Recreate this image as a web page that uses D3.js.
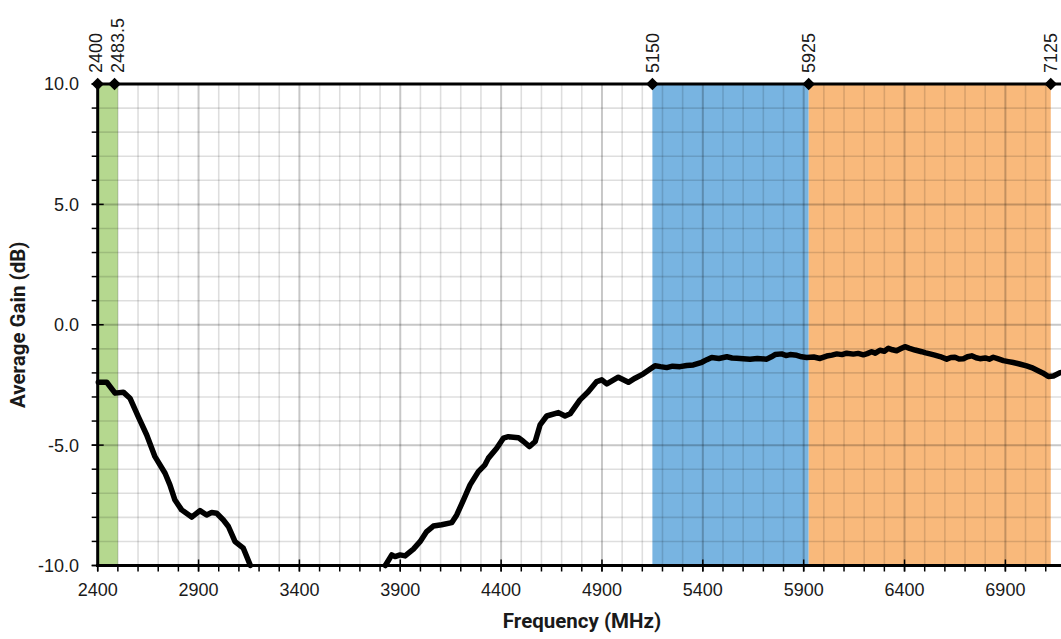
<!DOCTYPE html>
<html>
<head>
<meta charset="utf-8">
<script src="https://cdn.jsdelivr.net/npm/d3@7"></script>
<style>
  html, body { margin: 0; padding: 0; background: #fff; overflow: hidden; }
  svg { display: block; }
  text { font-family: "Liberation Sans", Arial, sans-serif; fill: #1a1a1a; }
</style>
</head>
<body>
<svg id="chart" width="1061" height="639"></svg>
<script>
// Measured average gain across frequency (MHz, dB); null marks the stretch below the axis floor
const freqMHz = [2403, 2445, 2486, 2527, 2560, 2601, 2643, 2684, 2734, 2758, 2783, 2816, 2866, 2907, 2940, 2965, 2990, 3023, 3048, 3081, 3122, 3157,
  3490,
  3826, 3858, 3874, 3899, 3924, 3965, 3998, 4031, 4064, 4105, 4155, 4180, 4213, 4246, 4287, 4320, 4337, 4378, 4411, 4436, 4486, 4511, 4541, 4569, 4593, 4626, 4684, 4717, 4742, 4791, 4832, 4874, 4899, 4924, 4981, 5031, 5064, 5105, 5163,
  5190, 5221, 5250, 5287, 5320, 5353, 5395, 5420, 5444, 5480, 5519, 5545, 5568, 5600, 5634, 5670, 5717, 5740, 5758, 5791, 5812, 5833, 5866, 5890, 5915, 5950, 5981, 6014, 6040, 6064, 6090, 6113, 6146, 6170, 6196, 6215, 6237, 6255, 6278, 6300, 6320, 6340, 6361, 6380, 6402, 6425, 6452, 6485, 6505, 6526, 6550, 6576, 6609, 6630, 6650, 6670, 6692, 6712, 6733, 6755, 6774, 6800, 6820, 6840, 6865, 6890, 6915, 6939, 6970, 7005, 7030, 7055, 7085, 7113, 7138, 7171, 7200];
const gainDb = [-2.39, -2.39, -2.84, -2.80, -3.05, -3.82, -4.58, -5.48, -6.17, -6.65, -7.28, -7.69, -7.99, -7.72, -7.90, -7.80, -7.83, -8.11, -8.38, -9.01, -9.28, -10.0,
  null,
  -10.0, -9.56, -9.63, -9.56, -9.60, -9.32, -9.01, -8.59, -8.36, -8.31, -8.22, -7.90, -7.28, -6.65, -6.10, -5.82, -5.54, -5.13, -4.71, -4.65, -4.69, -4.85, -5.06, -4.85, -4.16, -3.79, -3.65, -3.79, -3.70, -3.12, -2.78, -2.36, -2.29, -2.46, -2.18, -2.39, -2.22, -2.04, -1.70,
  -1.74, -1.78, -1.72, -1.74, -1.69, -1.67, -1.56, -1.45, -1.36, -1.40, -1.33, -1.38, -1.39, -1.41, -1.43, -1.40, -1.43, -1.33, -1.24, -1.21, -1.28, -1.24, -1.27, -1.33, -1.36, -1.34, -1.40, -1.30, -1.26, -1.21, -1.24, -1.18, -1.22, -1.19, -1.25, -1.20, -1.12, -1.18, -1.06, -1.10, -0.98, -1.04, -1.08, -1.00, -0.91, -0.98, -1.05, -1.12, -1.17, -1.21, -1.26, -1.32, -1.43, -1.36, -1.35, -1.42, -1.41, -1.33, -1.29, -1.37, -1.41, -1.38, -1.43, -1.35, -1.42, -1.49, -1.53, -1.57, -1.63, -1.71, -1.78, -1.88, -2.00, -2.15, -2.13, -1.99, -1.95];

// Wi-Fi band edges marked along the top (MHz)
const bandMarkers = [2400, 2483.5, 5150, 5925, 7125];
const bandMarkerLabels = ["2400", "2483.5", "5150", "5925", "7125"];

// Shaded bands: start, end, fill
const bandStart = [2400, 5150, 5925];
const bandEnd = [2500, 5925, 7125];
const bandFill = ["#b5d88f", "#78b4e1", "#f9b97b"];

// Axis ticks
const xMajorTicks = [2400, 2900, 3400, 3900, 4400, 4900, 5400, 5900, 6400, 6900];
const xMinorTicks = d3.range(2400, 7201, 100);
const yMajorTicks = [-10, -5, 0, 5, 10];
const yMinorTicks = d3.range(-10, 10.01, 1);
const xDomain = [2400, 7200];
const yDomain = [-10, 10];

const svg = d3.select("#chart");
const x = d3.scaleLinear().domain(xDomain).range([97.7, 1065.9]);
const y = d3.scaleLinear().domain(yDomain).range([565.5, 84]);

// Bands
svg.append("g").selectAll("rect").data(bandStart).join("rect")
  .attr("x", (d) => x(d))
  .attr("y", y(10))
  .attr("width", (d, i) => x(bandEnd[i]) - x(d))
  .attr("height", y(-10) - y(10))
  .attr("fill", (d, i) => bandFill[i]);

// Gridlines (translucent so they darken over the bands)
const grid = svg.append("g");
grid.selectAll("line.vmin").data(xMinorTicks.filter((d) => (d - 2400) % 500 !== 0)).join("line")
  .attr("x1", (d) => x(d)).attr("x2", (d) => x(d))
  .attr("y1", y(10)).attr("y2", y(-10))
  .attr("stroke", "rgba(0,0,0,0.13)").attr("stroke-width", 1.6);
grid.selectAll("line.vmaj").data(xMajorTicks).join("line")
  .attr("x1", (d) => x(d)).attr("x2", (d) => x(d))
  .attr("y1", y(10)).attr("y2", y(-10))
  .attr("stroke", "rgba(0,0,0,0.22)").attr("stroke-width", 2);
grid.selectAll("line.hmin").data(yMinorTicks.filter((d) => d % 5 !== 0)).join("line")
  .attr("x1", x(2400)).attr("x2", x(7200))
  .attr("y1", (d) => y(d)).attr("y2", (d) => y(d))
  .attr("stroke", "rgba(0,0,0,0.13)").attr("stroke-width", 1.6);
grid.selectAll("line.hmaj").data(yMajorTicks).join("line")
  .attr("x1", x(2400)).attr("x2", x(7200))
  .attr("y1", (d) => y(d)).attr("y2", (d) => y(d))
  .attr("stroke", "rgba(0,0,0,0.22)").attr("stroke-width", 2);

// Axes
const axisG = svg.append("g");
axisG.append("line").attr("x1", x(2400)).attr("x2", x(2400)).attr("y1", y(10)).attr("y2", y(-10) + 1.5)
  .attr("stroke", "#000").attr("stroke-width", 3);
axisG.append("line").attr("x1", x(2400) - 1.5).attr("x2", x(7200)).attr("y1", y(-10)).attr("y2", y(-10))
  .attr("stroke", "#000").attr("stroke-width", 3);
// y ticks
axisG.selectAll("line.ytmin").data(yMinorTicks).join("line")
  .attr("x1", x(2400) - 6).attr("x2", x(2400))
  .attr("y1", (d) => y(d)).attr("y2", (d) => y(d))
  .attr("stroke", "#000").attr("stroke-width", 1.5);
axisG.selectAll("line.ytmaj").data(yMajorTicks).join("line")
  .attr("x1", x(2400) - 6).attr("x2", x(2400) + 6)
  .attr("y1", (d) => y(d)).attr("y2", (d) => y(d))
  .attr("stroke", "#000").attr("stroke-width", 1.5);
// x ticks
axisG.selectAll("line.xtmin").data(xMinorTicks).join("line")
  .attr("x1", (d) => x(d)).attr("x2", (d) => x(d))
  .attr("y1", y(-10)).attr("y2", y(-10) + 6)
  .attr("stroke", "#000").attr("stroke-width", 1.5);
axisG.selectAll("line.xtmaj").data(xMajorTicks).join("line")
  .attr("x1", (d) => x(d)).attr("x2", (d) => x(d))
  .attr("y1", y(-10) - 6).attr("y2", y(-10) + 6)
  .attr("stroke", "#000").attr("stroke-width", 1.5);

// Tick labels (plain hyphen for negatives)
const fmtY = (d) => d.toFixed(1);
axisG.selectAll("text.yl").data(yMajorTicks).join("text")
  .attr("x", 79).attr("y", (d) => y(d)).attr("dy", "0.36em")
  .attr("text-anchor", "end").attr("font-size", 18)
  .text(fmtY);
axisG.selectAll("text.xl").data(xMajorTicks).join("text")
  .attr("x", (d) => x(d)).attr("y", 590).attr("dy", "0.36em")
  .attr("text-anchor", "middle").attr("font-size", 18)
  .text((d) => d);

// Axis titles
svg.append("text").attr("x", 582).attr("y", 621).attr("dy", "0.35em")
  .attr("text-anchor", "middle").attr("font-size", 20.5).attr("font-weight", "bold")
  .style("font-family", "Roboto, 'Liberation Sans', sans-serif")
  .text("Frequency (MHz)");
svg.append("text").attr("transform", `translate(18,${(y(10) + y(-10)) / 2}) rotate(-90)`)
  .attr("dy", "0.35em")
  .attr("text-anchor", "middle").attr("font-size", 20.5).attr("font-weight", "bold")
  .style("font-family", "Roboto, 'Liberation Sans', sans-serif")
  .text("Average Gain (dB)");

// Gain curve
const pts = freqMHz.map((f, i) => [f, gainDb[i]]);
svg.append("path").datum(pts)
  .attr("fill", "none").attr("stroke", "#000").attr("stroke-width", 5.5)
  .attr("stroke-linejoin", "round").attr("stroke-linecap", "round")
  .attr("d", d3.line().defined((d) => d[1] !== null).x((d) => x(d[0])).y((d) => y(d[1])));

// Band-edge markers along the top
const markerLine = bandMarkers.concat([xDomain[1]]);
svg.append("path").datum(markerLine)
  .attr("fill", "none").attr("stroke", "#000").attr("stroke-width", 3)
  .attr("d", d3.line().x((d) => x(d)).y(() => y(10)));
svg.append("g").selectAll("path").data(bandMarkers).join("path")
  .attr("transform", (d) => `translate(${x(d)},${y(10)})`)
  .attr("d", d3.symbol().type(d3.symbolDiamond2).size(100))
  .attr("fill", "#000");
svg.append("g").selectAll("text").data(bandMarkers).join("text")
  .attr("transform", (d, i) => `translate(${x(d) + (i === 0 ? -2 : i === 1 ? 3 : 0)},73) rotate(-90)`)
  .attr("dy", "0.36em").attr("font-size", 18)
  .text((d, i) => bandMarkerLabels[i]);
</script>
</body>
</html>
